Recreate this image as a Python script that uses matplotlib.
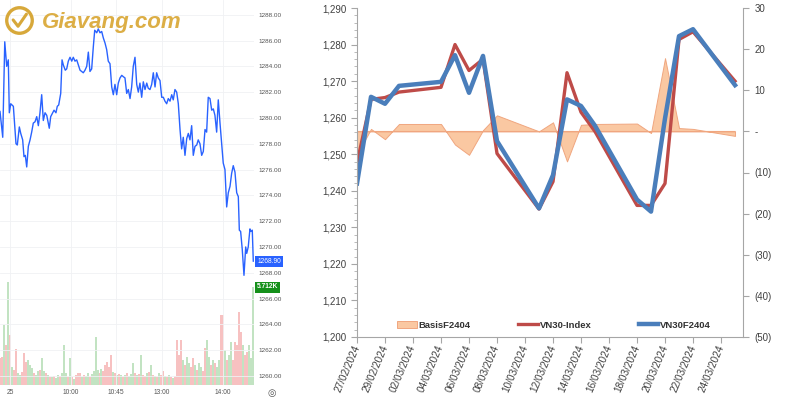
import numpy as np
import pandas as pd
import matplotlib
matplotlib.use("Agg")
import matplotlib.pyplot as plt
import matplotlib.dates as mdates
from matplotlib.ticker import MultipleLocator, StrMethodFormatter
from matplotlib.patches import Patch, Circle
from matplotlib.lines import Line2D

plt.rcParams['font.family'] = ['Liberation Sans', 'DejaVu Sans']

# ---------- left panel: intraday chart (x = trading minutes after 9:00, lunch break removed)
intraday_min = [
    -9.9, -7.2, -5.2, -3.3, -1.7, -0.7, 0.7, 3.3, 5.9, 7.2, 9.2, 10.6, 12.5, 13.8, 15.1, 16.5,
    18.1, 19.8, 21.4, 23.0, 24.7, 26.4, 28.0, 29.6, 31.3, 32.9, 34.6, 36.3, 38.8, 40.2, 42.2,
    43.5, 45.4, 46.7, 48.1, 50.1, 51.4, 52.7, 54.6, 56.0, 57.6, 59.3, 61.0, 62.5, 64.2, 65.9,
    67.5, 69.2, 70.8, 72.4, 74.1, 75.8, 77.4, 79.0, 80.7, 82.3, 83.7, 85.7, 87.2, 88.9, 90.6,
    92.2, 93.9, 95.5, 97.1, 98.8, 100.5, 102.1, 103.7, 105.4, 107.0, 108.7, 110.4, 111.9,
    113.6, 115.3, 116.9, 118.6, 120.2, 121.8, 123.5, 125.2, 126.8, 128.4, 130.1, 131.7, 133.4,
    135.1, 136.6, 138.3, 140.0, 141.6, 143.3, 144.9, 146.5, 148.2, 149.9, 151.5, 153.1, 154.8,
    156.4, 158.1, 159.8, 161.3, 163.0, 164.7, 166.3, 168.0, 169.6, 171.2, 172.9, 174.6, 176.2,
    177.8, 179.5, 181.1, 182.8, 184.5, 186.0, 187.7, 189.4, 191.0, 192.7, 194.3, 195.9, 197.6,
    199.3, 200.9, 202.5, 204.2, 205.8, 207.5, 209.2, 210.7, 212.4, 214.1, 215.7, 217.4, 219.0,
    220.6, 222.3, 224.0, 225.6, 226.6, 227.9, 229.5, 231.2, 232.9, 233.9, 235.4, 237.1, 238.1,
    239.4, 240.4]
intraday_price = [
    1280.5, 1278.5, 1285.9, 1284.0, 1284.5, 1280.4, 1281.1, 1280.9, 1278.0, 1277.9, 1279.3,
    1278.8, 1278.3, 1277.0, 1277.1, 1276.2, 1277.8, 1278.3, 1278.9, 1279.6, 1279.7, 1280.1,
    1279.4, 1280.4, 1281.8, 1279.8, 1280.4, 1280.2, 1279.2, 1280.1, 1280.4, 1280.6, 1280.4,
    1280.9, 1281.0, 1281.9, 1284.5, 1284.1, 1283.7, 1283.8, 1284.4, 1284.7, 1284.4, 1284.7,
    1284.4, 1284.5, 1284.1, 1283.7, 1283.6, 1283.5, 1283.7, 1284.0, 1285.1, 1283.6, 1283.8,
    1285.5, 1286.8, 1286.6, 1286.9, 1286.6, 1286.7, 1286.2, 1285.8, 1285.3, 1284.4, 1284.2,
    1282.4, 1281.8, 1282.6, 1281.8, 1282.7, 1283.1, 1283.3, 1283.2, 1283.1, 1281.9, 1282.2,
    1281.5, 1282.4, 1284.0, 1284.7, 1282.6, 1282.0, 1282.7, 1281.6, 1282.8, 1282.2, 1282.7,
    1282.3, 1282.2, 1282.6, 1283.5, 1282.4, 1283.5, 1283.1, 1282.9, 1281.6, 1281.6, 1281.3,
    1281.1, 1281.5, 1281.3, 1281.8, 1281.4, 1282.2, 1282.0, 1281.1, 1279.1, 1277.6, 1278.5,
    1277.1, 1278.4, 1278.8, 1278.3, 1279.4, 1277.1, 1277.8, 1277.9, 1278.3, 1278.0, 1277.1,
    1277.4, 1279.1, 1278.9, 1281.6, 1281.5, 1280.6, 1280.7, 1280.2, 1278.9, 1281.4, 1279.6,
    1278.0, 1276.5, 1276.0, 1273.1, 1274.2, 1274.7, 1275.7, 1276.3, 1275.8, 1274.2, 1273.9,
    1271.3, 1271.2, 1269.8, 1267.8, 1270.0, 1269.5, 1270.0, 1271.4, 1271.2, 1271.3, 1268.9]

# volume in thousands, one bar per slot from 8:50 to 14:30
volume_k = [
    1.57, 1.63, 3.50, 2.33, 6.00, 2.92, 1.05, 0.87, 2.10, 0.70,
    0.58, 0.76, 1.87, 1.34, 1.46, 1.17, 0.99, 0.70, 0.58, 0.82,
    0.87, 1.57, 0.82, 0.70, 0.58, 0.47, 0.47, 0.52, 0.41, 0.58,
    0.52, 0.70, 2.33, 0.70, 0.47, 1.57, 0.47, 0.35, 0.58, 0.70,
    0.70, 0.47, 0.58, 0.52, 0.70, 0.47, 0.64, 0.82, 2.80, 0.87,
    0.70, 0.93, 0.82, 1.17, 1.34, 1.05, 1.75, 0.76, 0.70, 0.58,
    0.64, 0.58, 0.47, 0.58, 0.70, 0.52, 0.64, 1.28, 0.70, 0.58,
    0.64, 1.75, 0.58, 0.52, 0.70, 0.76, 1.17, 0.58, 0.52, 0.47,
    0.70, 0.58, 0.82, 0.52, 0.47, 0.58, 0.47, 0.41, 0.52, 2.62,
    1.75, 2.62, 1.46, 1.17, 1.63, 1.28, 1.05, 1.57, 1.17, 0.87,
    1.28, 1.05, 0.82, 2.16, 2.62, 1.63, 1.17, 1.46, 1.28, 1.05,
    1.46, 4.08, 4.08, 2.04, 1.46, 1.75, 2.51, 1.46, 2.51, 2.33,
    4.26, 3.09, 2.33, 1.75, 1.92, 2.33, 1.57, 5.712]
volume_dir = ("rrgrgrgrrg" "grrrgggrgg" "rggrgrgrgg" "rgggrgrgrr" "rgrggrgggg"
              "rgrrrrrgrg" "rgrgrgggrg" "rgrrgrgrgr" "grrgrgrgrr" "rrgrggrrgr"
              "ggrrggrgrg" "grrgrggrrr" "rrgrrggg")
vol_first_min, vol_last_min = -10, 240

time_ticks = [0, 60, 105, 150, 210]
time_labels = ['25', '10:00', '10:45', '13:00', '14:00']
price_ticks = list(range(1260, 1290, 2))
last_price = 1268.90
last_volume = 5.712

# ---------- right panel: daily VN30 vs VN30F2404
trade_dates = ['27/02/2024', '28/02/2024', '29/02/2024', '01/03/2024', '04/03/2024',
               '05/03/2024', '06/03/2024', '07/03/2024', '08/03/2024', '11/03/2024',
               '12/03/2024', '13/03/2024', '14/03/2024', '15/03/2024', '18/03/2024',
               '19/03/2024', '20/03/2024', '21/03/2024', '22/03/2024', '25/03/2024']
vn30_index = [1247.6, 1265.0, 1265.5, 1267.0, 1268.3, 1280.0, 1272.9, 1276.0, 1250.2, 1235.0,
              1242.5, 1272.3, 1261.5, 1256.2, 1236.0, 1236.0, 1242.0, 1281.4, 1283.5, 1270.0]
vn30f2404 = [1242.0, 1265.7, 1263.8, 1268.7, 1269.8, 1277.1, 1266.8, 1276.9, 1253.6, 1235.2,
             1244.3, 1265.0, 1263.2, 1257.8, 1237.6, 1234.3, 1259.8, 1282.3, 1284.2, 1268.9]
basis_f2404 = [-5.6, 0.6, -1.9, 1.8, 1.8, -3.2, -5.7, 0.3, 3.9, 0.0,
               2.2, -7.3, 1.6, 1.8, 1.9, -0.4, 17.8, 0.8, 0.6, -1.1]
right_ticks = [30, 20, 10, 0, -10, -20, -30, -40, -50]
right_labels = ['30', '20', '10', '-', '(10)', '(20)', '(30)', '(40)', '(50)']

fig = plt.figure(figsize=(8, 4), dpi=100)

# ===== left panel
rect_l = [0, 0.0375, 0.3175, 0.9625]
vax = fig.add_axes(rect_l)
ax = fig.add_axes(rect_l)

vx = np.linspace(vol_first_min, vol_last_min, len(volume_k))
vcols = ['#86c886' if d == 'g' else '#f08484' for d in volume_dir]
vax.bar(vx, volume_k, width=(vx[1] - vx[0]) * 1.0, color=vcols, alpha=0.5, linewidth=0)
vax.set_xlim(-9.9, 241.1)
vax.set_ylim(0, 22.44)
vax.axis('off')
vax.annotate(f'{last_volume:.3f}K', xy=(1, last_volume), xycoords=('axes fraction', 'data'),
             xytext=(2.2, 0), textcoords='offset points', ha='left', va='center',
             fontsize=4.8, color='white', fontweight='bold',
             bbox=dict(boxstyle='square,pad=0.3', fc='#15901a', ec='none'))

ax.patch.set_visible(False)
ax.plot(intraday_min, intraday_price, color='#2962FF', lw=1.0)
ax.set_xlim(-9.9, 241.1)
ax.set_ylim(1259.3, 1289.14)
ax.set_yticks(price_ticks)
ax.set_yticklabels([f'{p:.2f}' for p in price_ticks])
ax.yaxis.tick_right()
ax.set_xticks(time_ticks)
ax.set_xticklabels(time_labels)
ax.tick_params(axis='y', length=0, pad=3, labelsize=4.6, colors='#555555')
ax.tick_params(axis='x', length=0, pad=3.0, labelsize=4.8, colors='#555555')
ax.grid(True, color='#f0f1f4', lw=0.6)
for s in ax.spines.values():
    s.set_visible(False)
ax.annotate(f'{last_price:.2f}', xy=(1, last_price), xycoords=('axes fraction', 'data'),
            xytext=(2.2, 0), textcoords='offset points', ha='left', va='center',
            fontsize=4.8, color='white',
            bbox=dict(boxstyle='square,pad=0.3', fc='#2962FF', ec='none'))

# logo
lax = fig.add_axes([5 / 800, 1 - 35 / 400, 29 / 800, 29 / 400])
lax.set_xlim(0, 1)
lax.set_ylim(0, 1)
lax.axis('off')
lax.add_patch(Circle((0.5, 0.5), 0.44, fill=False, ec='#d7a83a', lw=2.4))
lax.plot([0.28, 0.45, 0.74], [0.52, 0.3, 0.72], color='#d7a83a', lw=2.2,
         solid_capstyle='round', solid_joinstyle='round')
fig.text(42 / 800, 1 - 28 / 400, 'Giavang.com', fontsize=16, fontweight='bold',
         fontstyle='italic', color='#dcae45', ha='left', va='baseline')
fig.text(272 / 800, 1 - 393 / 400, '\u25ce', fontsize=7, ha='center', va='center',
         color='#555555', family='DejaVu Sans')

# ===== right panel
dates = pd.to_datetime(trade_dates, format='%d/%m/%Y')
rect_r = [357 / 800, 1 - 337 / 400, 386 / 800, 329 / 400]
axb = fig.add_axes(rect_r)
axr = fig.add_axes(rect_r)
x_lo = dates[0]
x_hi = dates[0] + pd.Timedelta(days=27.57)

axb.fill_between(dates, basis_f2404, 0, interpolate=True, facecolor='#fac8a2',
                 edgecolor='#f0a67f', lw=0.7)
axb.hlines(0, dates[0], dates[-1], color='#f0a67f', lw=0.8)
axb.set_xlim(x_lo, x_hi)
axb.set_ylim(-50, 30)
axb.yaxis.tick_right()
axb.set_yticks(right_ticks)
axb.set_yticklabels(right_labels)
axb.tick_params(axis='y', direction='out', length=4, width=0.8, color='#a6a6a6',
                pad=4.5, labelsize=7, labelcolor='#404040')
axb.set_xticks([])
for k, s in axb.spines.items():
    s.set_visible(k == 'right')
axb.spines['right'].set_color('#a6a6a6')

axr.patch.set_visible(False)
axr.plot(dates, vn30_index, color='#be4b48', lw=2.4, solid_joinstyle='round')
axr.plot(dates, vn30f2404, color='#4a7ebb', lw=3.2, solid_joinstyle='round')
axr.set_xlim(x_lo, x_hi)
axr.set_ylim(1200, 1290)
axr.yaxis.set_major_locator(MultipleLocator(10))
axr.yaxis.set_minor_locator(MultipleLocator(2))
axr.yaxis.set_major_formatter(StrMethodFormatter('{x:,.0f}'))
date_ticks = pd.date_range('2024-02-27', '2024-03-24', freq='2D')
axr.set_xticks(date_ticks)
axr.xaxis.set_major_formatter(mdates.DateFormatter('%d/%m/%Y'))
axr.tick_params(axis='y', which='major', direction='out', length=4, width=0.8,
                color='#a6a6a6', labelsize=7, labelcolor='#404040')
axr.tick_params(axis='y', which='minor', direction='out', length=2.5, width=0.6,
                color='#b0b0b0')
axr.tick_params(axis='x', direction='out', length=4, width=0.8, color='#a6a6a6',
                labelsize=7.2, labelcolor='#404040', pad=2)
for lbl in axr.get_xticklabels():
    lbl.set_rotation(67)
    lbl.set_ha('right')
    lbl.set_va('center')
    lbl.set_rotation_mode('anchor')
for k in ('top', 'right'):
    axr.spines[k].set_visible(False)
for k in ('left', 'bottom'):
    axr.spines[k].set_color('#a6a6a6')

handles = [Patch(facecolor='#fac8a2', edgecolor='#f0a67f', lw=0.7),
           Line2D([], [], color='#be4b48', lw=2.4),
           Line2D([], [], color='#4a7ebb', lw=3.2)]
axr.legend(handles, ['BasisF2404', 'VN30-Index', 'VN30F2404'], ncol=3, frameon=False,
           loc='center left', bbox_to_anchor=(397 / 800, 1 - 325 / 400),
           bbox_transform=fig.transFigure, borderpad=0, borderaxespad=0,
           handlelength=2.1, handletextpad=0.2, columnspacing=5.0,
           prop={'size': 6.8, 'weight': 'bold'}, labelcolor='#333333')

fig.savefig('out.png', dpi=100)
